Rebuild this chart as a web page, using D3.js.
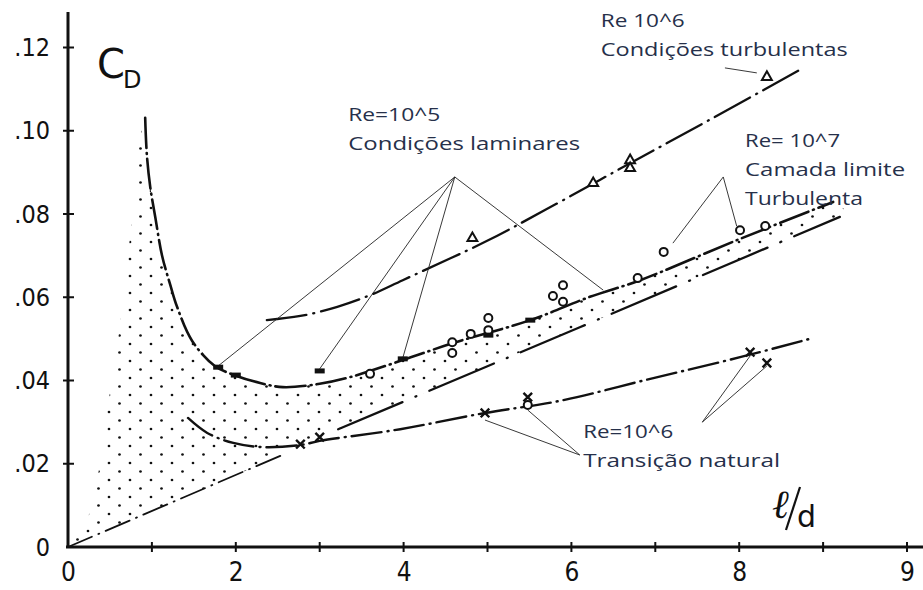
<!DOCTYPE html>
<html><head><meta charset="utf-8">
<script src="https://cdn.jsdelivr.net/npm/d3@7"></script>
<style>body{margin:0;background:#fff}svg{display:block}</style>
</head><body><svg id="c" width="923" height="590"></svg>
<script>
// ---------- data (l/d, C_D) ----------
const xTickValues=[0,1,2,3,4,5,6,7,8,9,10];
const xLabelValues=[0,2,4,6,8,10];
const xTickLabels=["0","2","4","6","8","9"];
const yTickValues=[0,.02,.04,.06,.08,.10,.12];
const yTickLabels=["0",".02",".04",".06",".08",".10",".12"];

const laminarCurve=[[0.92,.1031],[0.94,.0942],[0.98,.0865],[1.04,.0793],[1.12,.0701],[1.22,.0629],[1.30,.0577],[1.48,.0495],[1.75,.0435],[2.01,.0411],[2.29,.0394],[2.56,.0384],[3.00,.0392],[3.36,.0408],[3.99,.0449],[4.59,.0490],[5.51,.0545],[6.22,.0601],[6.82,.0641],[7.97,.0737],[9.12,.0829]];
const turbBLCurve=[[3.22,.0283],[6.10,.0528],[9.20,.0793]];
const transitionCurve=[[1.43,.0310],[1.66,.0274],[1.97,.0250],[2.32,.0240],[2.77,.0245],[3.00,.0255],[3.96,.0283],[4.97,.0322],[5.86,.0351],[6.94,.0404],[8.01,.0456],[8.84,.0500]];
const turbulentCurve=[[2.37,.0545],[2.77,.0555],[3.21,.0577],[3.60,.0605],[3.99,.0641],[4.99,.0735],[5.69,.0810],[6.70,.0922],[7.69,.1031],[8.72,.1146]];
const originLine=[[0,0],[2.53,.0219]];
const stippleLeftEdge=[[0,0],[0.18,.0041],[0.27,.0089],[0.40,.0216],[0.46,.0322],[0.56,.0444],[0.66,.0593],[0.75,.0766],[0.81,.0949],[0.92,.1031]];
const stippleRightEnd=[[9.25,.0812]];

const circlePts=[[3.60,.0416],[4.58,.0492],[4.58,.0466],[4.80,.0512],[5.01,.0550],[5.01,.0521],[5.78,.0603],[5.90,.0629],[5.90,.0589],[6.79,.0646],[7.10,.0709],[8.01,.0761],[8.31,.0771],[5.48,.0341]];
const trianglePts=[[4.82,.0742],[6.26,.0874],[6.70,.0929],[6.70,.0910],[8.33,.1129]];
const crossPts=[[2.77,.0247],[3.00,.0264],[4.97,.0322],[5.48,.0360],[8.13,.0468],[8.33,.0442]];
const barPts=[[1.79,.0432],[2.00,.0413],[3.00,.0423],[3.99,.0452],[5.51,.0545],[5.01,.0509]];

const leaders=[
  [[4.61,.0889],[1.79,.0435]],[[4.61,.0889],[3.00,.0428]],[[4.61,.0889],[3.99,.0454]],[[4.61,.0889],[6.38,.0617]],
  [[7.81,.0889],[7.21,.0730]],[[7.81,.0889],[7.97,.0771]],
  [[7.83,.1151],[8.21,.1139]],
  [[6.10,.0221],[4.97,.0305]],[[6.10,.0221],[5.48,.0329]],
  [[7.56,.0300],[8.13,.0459]],[[7.56,.0300],[8.33,.0435]]
];
const annotations=[
  {lines:["Re 10^6","Condições turbulentas"],pos:[6.35,.1249],w:[84,247]},
  {lines:["Re=10^5","Condições laminares"],pos:[3.34,.1023],w:[92,232]},
  {lines:["Re= 10^7","Camada limite","Turbulenta"],pos:[8.07,.0961],w:[95,160,118]},
  {lines:["Re=10^6","Transição natural"],pos:[6.14,.0262],w:[90,197]}
];

// ---------- drawing ----------
const svg=d3.select("#c");
const x=d3.scaleLinear().domain([0,10]).range([68,907]);
const y=d3.scaleLinear().domain([0,.12]).range([547,47.5]);
const ink="#111";

const defs=svg.append("defs");
const pat=defs.append("pattern").attr("id","stip").attr("patternUnits","userSpaceOnUse")
  .attr("width",21).attr("height",17);
pat.append("circle").attr("cx",4).attr("cy",4).attr("r",1.35).attr("fill",ink);
pat.append("circle").attr("cx",14.5).attr("cy",12.5).attr("r",1.35).attr("fill",ink);

// stipple region
const region=[].concat(stippleLeftEdge,laminarCurve.slice(1),stippleRightEnd,turbBLCurve.slice().reverse(),[originLine[1]]);
const lineGen=d3.line().x(d=>x(d[0])).y(d=>y(d[1]));
const smooth=d3.line().x(d=>x(d[0])).y(d=>y(d[1])).curve(d3.curveCatmullRom.alpha(0.5));
svg.append("path").attr("d",d3.line().x(d=>x(d[0])).y(d=>y(d[1])).curve(d3.curveLinearClosed)(region))
  .attr("fill","url(#stip)").attr("stroke","none");

// axes
const numFont="'Liberation Sans Narrow','DejaVu Sans Condensed','Liberation Sans',sans-serif";
const xAxis=d3.axisBottom(x).tickValues(xLabelValues).tickFormat((d,i)=>xTickLabels[i]).tickSize(0).tickPadding(16);
const gx=svg.append("g").attr("transform",`translate(0,${y(0)})`).call(xAxis);
gx.select(".domain").remove();
gx.selectAll("text").attr("font-family",numFont).attr("font-size",26).attr("fill",ink);
const yAxis=d3.axisLeft(y).tickValues(yTickValues).tickFormat((d,i)=>yTickLabels[i]).tickSize(0).tickPadding(18);
const gy=svg.append("g").attr("transform",`translate(${x(0)},0)`).call(yAxis);
gy.select(".domain").remove();
gy.selectAll("text").attr("font-family",numFont).attr("font-size",25).attr("fill",ink);

svg.append("line").attr("x1",x(0)-2).attr("x2",923).attr("y1",y(0)).attr("y2",y(0)).attr("stroke",ink).attr("stroke-width",3);
svg.append("line").attr("x1",x(0)).attr("x2",x(0)).attr("y1",y(0)+1).attr("y2",y(.1285)).attr("stroke",ink).attr("stroke-width",3);
svg.selectAll(".xt").data(xTickValues.slice(1)).join("line").attr("x1",d=>x(d)).attr("x2",d=>x(d))
  .attr("y1",y(0)-5).attr("y2",y(0)+5).attr("stroke",ink).attr("stroke-width",2);
svg.selectAll(".yt").data(yTickValues.slice(1)).join("line").attr("x1",x(0)-5).attr("x2",x(0)+6)
  .attr("y1",d=>y(d)).attr("y2",d=>y(d)).attr("stroke",ink).attr("stroke-width",2);

// axis titles
const cd=svg.append("text").attr("x",97).attr("y",78).attr("font-family","'DejaVu Sans',sans-serif").attr("fill",ink);
cd.append("tspan").attr("font-size",40).text("C");
cd.append("tspan").attr("font-size",24).attr("dy",10).attr("dx",-2).text("D");
svg.append("text").attr("x",772).attr("y",518).attr("font-family","'DejaVu Serif',serif").attr("font-style","italic").attr("font-size",40).attr("fill",ink).text("ℓ");
svg.append("line").attr("x1",786).attr("y1",530).attr("x2",800).attr("y2",487).attr("stroke",ink).attr("stroke-width",2.2);
svg.append("text").attr("x",797).attr("y",527).attr("font-family","'DejaVu Sans',sans-serif").attr("font-size",30).attr("fill",ink).text("d");

// curves
function curve(data,dash,w){
  svg.append("path").attr("d",smooth(data)).attr("fill","none").attr("stroke",ink)
    .attr("stroke-width",w).attr("stroke-dasharray",dash).attr("stroke-linecap","round");
}
curve(laminarCurve,"30,5,1,5",2.6);
curve(turbulentCurve,"40,7,1,7",2.3);
curve(transitionCurve,"30,6,1,6",2.4);
curve(turbBLCurve,"70,14,1,14",2.3);
curve(originLine,"26,7,1,7",1.8);

// leader lines
svg.selectAll(".ld").data(leaders).join("path").attr("d",d=>lineGen(d))
  .attr("fill","none").attr("stroke","#222").attr("stroke-width",0.9);

// markers
svg.selectAll(".ci").data(circlePts).join("circle").attr("cx",d=>x(d[0])).attr("cy",d=>y(d[1])).attr("r",4)
  .attr("fill","#fff").attr("stroke",ink).attr("stroke-width",2);
svg.selectAll(".tr").data(trianglePts).join("path").attr("transform",d=>`translate(${x(d[0])},${y(d[1])})`)
  .attr("d",d3.symbol(d3.symbolTriangle,42)).attr("fill","#fff").attr("stroke",ink).attr("stroke-width",2);
svg.selectAll(".cr").data(crossPts).join("path").attr("transform",d=>`translate(${x(d[0])},${y(d[1])})`)
  .attr("d",d3.symbol(d3.symbolTimes,50)).attr("fill","none").attr("stroke",ink).attr("stroke-width",2.4);
svg.selectAll(".br").data(barPts).join("rect").attr("x",d=>x(d[0])-5).attr("y",d=>y(d[1])-2.5)
  .attr("width",10).attr("height",5).attr("fill",ink);

// annotations
annotations.forEach(a=>{
  a.lines.forEach((t,i)=>{
    svg.append("text").attr("x",x(a.pos[0])).attr("y",y(a.pos[1])+i*29)
      .attr("font-family","'Open Sans','Noto Sans',sans-serif").attr("font-size",19)
      .attr("fill","#26304a").attr("textLength",a.w[i]).attr("lengthAdjust","spacingAndGlyphs").text(t);
  });
});
</script></body></html>
